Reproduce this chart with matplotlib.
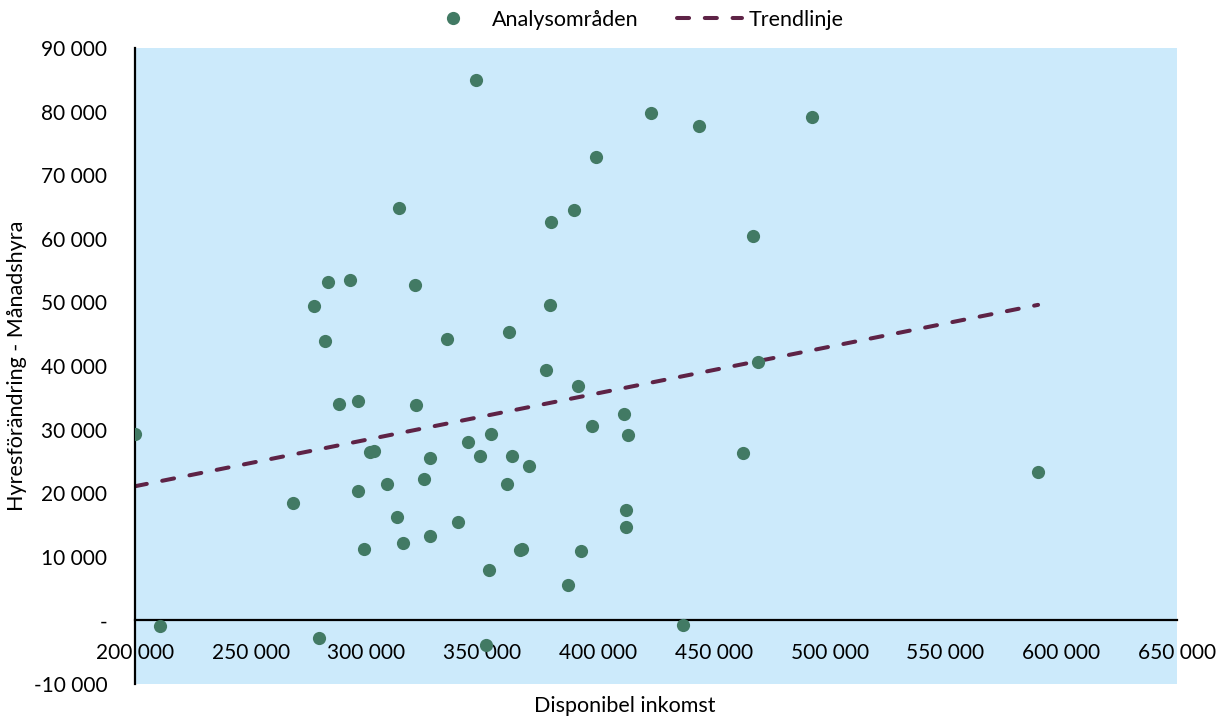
import numpy as np
import matplotlib
matplotlib.use("Agg")
import matplotlib.pyplot as plt
from matplotlib.ticker import FuncFormatter, MultipleLocator

plt.rcParams['font.family'] = ['Lato', 'DejaVu Sans']

# Disponibel inkomst (kr) och hyresförändring (kr)
inkomst = [200000, 210800, 268200, 277300, 279500, 282000, 283300, 288100,
           292900, 296300, 296300, 298900, 301500, 303200, 308800, 313100,
           314000, 315700, 320900, 321400, 324800, 327400, 327400, 334700,
           339500, 343800, 347300, 349000, 351600, 352900, 353700, 360600,
           361500, 362800, 366300, 367100, 370200, 377500, 379200, 379700,
           387000, 389600, 391300, 392600, 397400, 399100, 411200, 412000,
           412000, 412900, 422800, 436700, 443600, 462600, 466900, 469100,
           492400, 590000]
hyresforandring = [29300, -900, 18500, 49400, -2800, 44000, 53200, 34100,
                   53600, 34500, 20300, 11300, 26500, 26600, 21500, 16200,
                   64800, 12100, 52800, 33800, 22200, 25600, 13200, 44300,
                   15500, 28100, 84900, 25800, -3800, 7900, 29300, 21500,
                   45400, 25900, 11000, 11300, 24300, 39400, 49600, 62700,
                   5600, 64600, 36900, 10900, 30600, 72800, 32400, 17400,
                   14700, 29100, 79800, -800, 77700, 26300, 60400, 40600,
                   79100, 23400]

x = np.array(inkomst)
y = np.array(hyresforandring)

# Linjär trendlinje
k, m = np.polyfit(x, y, 1)
trend_x = np.array([x.min(), x.max()])
trend_y = k * trend_x + m

fig = plt.figure(figsize=(12.29, 7.2), dpi=100)
ax = fig.add_axes([0.1098, 0.05, 0.8479, 0.8833])
ax.set_facecolor('#CCEAFB')

ax.plot(x, y, 'o', color='#427A64', markersize=9.5, markeredgewidth=0,
        label='Analysområden', zorder=3)
ax.plot(trend_x, trend_y, color='#5E2346', linewidth=2.9,
        dashes=(3.0, 3.9), dash_capstyle='round', label='Trendlinje', zorder=2)

ax.set_xlim(200000, 650000)
ax.set_ylim(-10000, 90000)
ax.xaxis.set_major_locator(MultipleLocator(50000))
ax.yaxis.set_major_locator(MultipleLocator(10000))


def fmt(v, pos):
    if abs(v) < 1:
        return '-'
    s = f"{abs(v):,.0f}".replace(',', ' ')
    return ('-' if v < 0 else '') + s


ax.xaxis.set_major_formatter(FuncFormatter(fmt))
ax.yaxis.set_major_formatter(FuncFormatter(fmt))

for s in ['top', 'right']:
    ax.spines[s].set_visible(False)
ax.spines['bottom'].set_position(('data', 0))
ax.spines['bottom'].set_linewidth(1.6)
ax.spines['left'].set_linewidth(1.6)

ax.tick_params(axis='both', length=0, labelsize=15, colors='black')
ax.tick_params(axis='x', pad=16)
ax.tick_params(axis='y', pad=20)
for lbl in ax.get_xticklabels():
    lbl.set_zorder(5)

ax.set_ylabel('Hyresförändring - Månadshyra', fontsize=15.5, labelpad=5)
fig.text(625 / 1229, 1 - 706 / 720, 'Disponibel inkomst', fontsize=15.5,
         ha='center', va='center')

fig.legend(loc='center', bbox_to_anchor=(632 / 1229, 1 - 20 / 720), ncol=2,
           frameon=False, fontsize=15.5, handlelength=3.0, columnspacing=1.8,
           handletextpad=0.3)

fig.savefig('out.png', dpi=100)
